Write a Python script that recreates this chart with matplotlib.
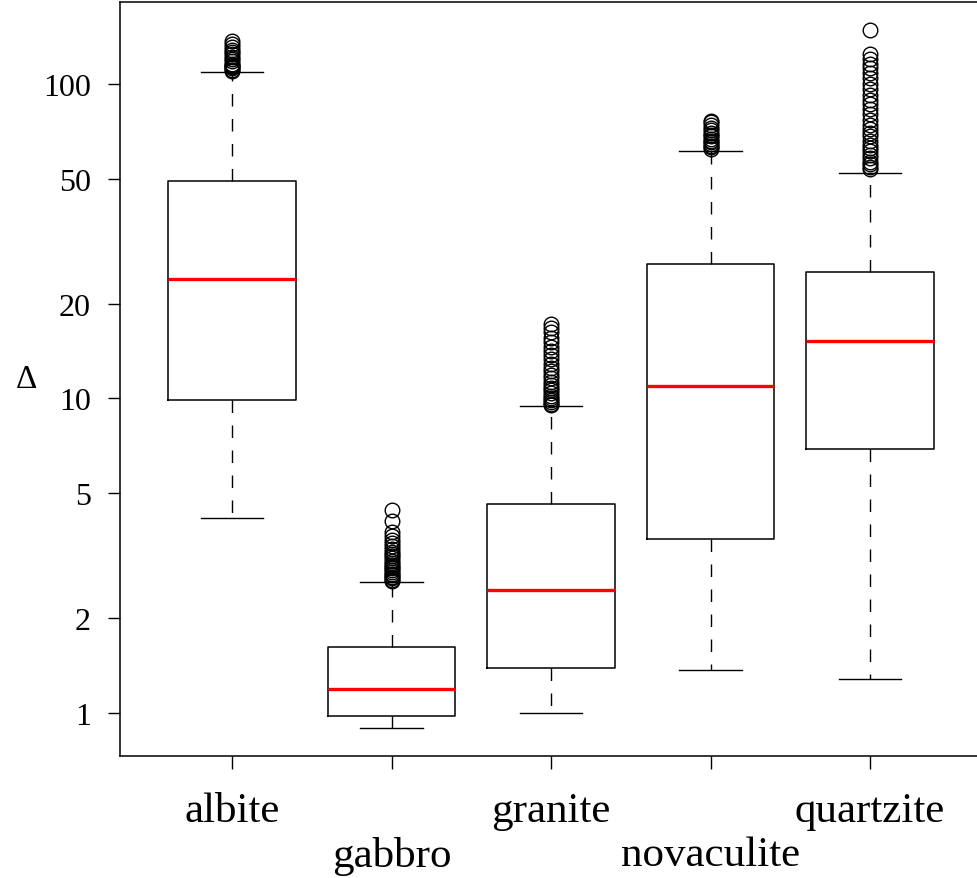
import matplotlib
matplotlib.use('Agg')
import matplotlib.pyplot as plt

# rock types and box statistics (log scale)
rocks = ['albite', 'gabbro', 'granite', 'novaculite', 'quartzite']
q1 = [9.9, 0.98, 1.39, 3.57, 6.9]
med = [24.0, 1.19, 2.46, 10.96, 15.2]
q3 = [49.2, 1.62, 4.62, 26.8, 25.3]
whislo = [4.17, 0.896, 1.0, 1.37, 1.28]
whishi = [109, 2.61, 9.46, 61.2, 52.1]
fliers = [
    [110, 111, 112, 113, 114, 115, 116, 118, 120, 122, 124, 126, 128, 131, 134, 137],
    [2.62, 2.65, 2.68, 2.71, 2.74, 2.77, 2.8, 2.84, 2.88, 2.92, 2.96, 3.0, 3.05,
     3.1, 3.15, 3.2, 3.26, 3.32, 3.4, 3.48, 3.56, 3.65, 3.76, 4.09, 4.42],
    [9.5, 9.6, 9.75, 9.9, 10.05, 10.2, 10.4, 10.6, 10.8, 11.0, 11.3, 11.6, 11.9,
     12.2, 12.5, 12.9, 13.3, 13.7, 14.1, 14.6, 15.1, 15.6, 16.2, 16.7, 17.2],
    [62, 62.8, 63.6, 64.4, 65.2, 66, 67, 68, 69, 70, 71.2, 72.5, 74, 75.5, 76.3],
    [53.5, 54.5, 55.5, 56.5, 58, 59.5, 61, 62.5, 64, 66, 68, 70, 72, 74, 77, 80,
     83, 86, 89, 92, 96, 100, 104, 108, 112, 116, 120, 124, 148],
]
yticks = [1, 2, 5, 10, 20, 50, 100]

stats = []
for i, name in enumerate(rocks):
    stats.append(dict(label=name, q1=q1[i], med=med[i], q3=q3[i],
                      whislo=whislo[i], whishi=whishi[i], fliers=fliers[i]))

plt.rcParams['font.family'] = ['Liberation Serif', 'DejaVu Serif']

fig = plt.figure(figsize=(9.77, 8.79), dpi=100)
ax = fig.add_axes([0.1228, 0.1388, 0.8772, 0.8578])

ax.bxp(stats, positions=range(1, 6), widths=0.8, showfliers=True,
       boxprops=dict(color='black', linewidth=1.1),
       medianprops=dict(color='red', linewidth=2.4, solid_capstyle='butt'),
       whiskerprops=dict(color='black', linewidth=1.0, linestyle=(0, (9, 9))),
       capprops=dict(color='black', linewidth=1.0),
       capwidths=0.39,
       flierprops=dict(marker='o', markerfacecolor='none', markeredgecolor='black',
                       markersize=10.5, markeredgewidth=1.0))

ax.set_yscale('log')
ax.set_ylim(0.73, 182)
ax.set_xlim(0.298, 5.67)
ax.set_yticks(yticks)
ax.set_yticklabels([str(t) for t in yticks])
ax.minorticks_off()
ax.tick_params(axis='y', direction='out', length=9, width=1, labelsize=23, pad=12)
ax.tick_params(axis='x', direction='out', length=9, width=1, labelbottom=False)
ax.set_xticks(range(1, 6))

for s in ['left', 'bottom', 'top']:
    ax.spines[s].set_linewidth(1.1)
ax.spines['right'].set_visible(False)

# alternate the category labels on two lines like R's mtext
for i, name in enumerate(rocks):
    off = -36 if i % 2 == 0 else -80
    ax.annotate(name, xy=(i + 1, 0), xycoords=('data', 'axes fraction'),
                xytext=(0, off), textcoords='offset pixels',
                ha='center', va='top', fontsize=31)

ax.set_ylabel('Δ', rotation=0, fontsize=24, labelpad=12, va='center')

plt.savefig('out.png', dpi=100)
